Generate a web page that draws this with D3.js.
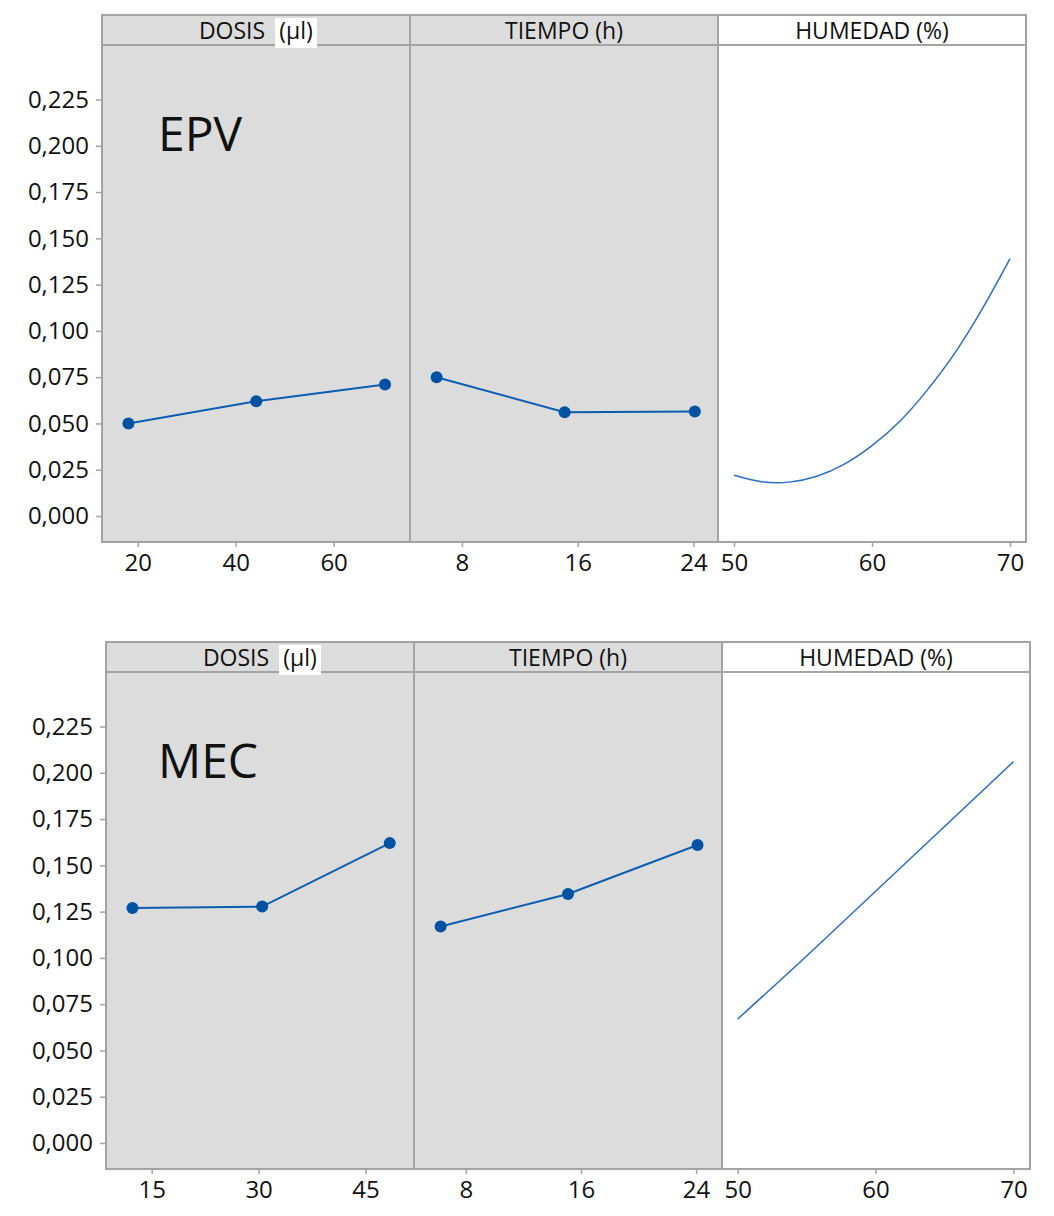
<!DOCTYPE html>
<html>
<head>
<meta charset="utf-8">
<script src="https://cdn.jsdelivr.net/npm/d3@7"></script>
<style>
  html, body { margin: 0; padding: 0; background: #fff; }
  svg { display: block; }
  text { font-family: "Open Sans", "DejaVu Sans", sans-serif; }
</style>
</head>
<body>
<svg id="chart" width="1054" height="1216"></svg>
<script>
// Main-effect values for each response (mean of the response at each factor level)
const tiempoLevels = [6.25, 15.1, 24.1];

const epvDosisLevels = [18.1, 44.2, 70.5];
const epvDosisMean = [0.050, 0.062, 0.071];
const epvTiempoMean = [0.075, 0.056, 0.0565];
const epvHumedadX = [50, 52, 54, 56, 58, 60, 62, 64, 66, 68, 70];
const epvHumedadFit = [0.022, 0.0185, 0.0183, 0.0215, 0.028, 0.038, 0.051, 0.068, 0.088, 0.112, 0.139];

const mecDosisLevels = [12.3, 30.5, 48.4];
const mecDosisMean = [0.127, 0.1277, 0.162];
const mecTiempoMean = [0.117, 0.1345, 0.161];
const mecHumedadX = [50, 55, 60, 65, 70];
const mecHumedadFit = [0.067, 0.101, 0.136, 0.171, 0.206];

// Tick labels
const yTicks = [0, 0.025, 0.05, 0.075, 0.1, 0.125, 0.15, 0.175, 0.2, 0.225];
const epvDosisTicks = [20, 40, 60];
const mecDosisTicks = [15, 30, 45];
const tiempoTicks = [8, 16, 24];
const humedadTicks = [50, 60, 70];

const panelTitles = ["DOSIS", "TIEMPO (h)", "HUMEDAD (%)"];
const doseUnit = "(µl)";
const rowLabels = ["EPV", "MEC"];

const svg = d3.select("#chart");
const FRAME = "#a3a3a3";
const GRAY = "#dcdcdc";
const LINE = "#0b5cb3";
const DOT = "#0052a3";
const FIT = "#2a6fc2";
const INK = "#111111";
const fmt = v => d3.format(".3f")(v).replace(".", ",");

const rows = [
  {
    label: rowLabels[0], left: 102, top: 15, labelX: 158,
    domains: [[12.7, 75.6], [4.41, 25.7], [48.84, 71.16]],
    ticks: [epvDosisTicks, tiempoTicks, humedadTicks],
    dosis: epvDosisLevels.map((x, i) => [x, epvDosisMean[i]]),
    tiempo: tiempoLevels.map((x, i) => [x, epvTiempoMean[i]]),
    humedad: epvHumedadX.map((x, i) => [x, epvHumedadFit[i]])
  },
  {
    label: rowLabels[1], left: 106, top: 642, labelX: 158,
    domains: [[8.59, 51.8], [4.4, 25.8], [48.86, 71.2]],
    ticks: [mecDosisTicks, tiempoTicks, humedadTicks],
    dosis: mecDosisLevels.map((x, i) => [x, mecDosisMean[i]]),
    tiempo: tiempoLevels.map((x, i) => [x, mecTiempoMean[i]]),
    humedad: mecHumedadX.map((x, i) => [x, mecHumedadFit[i]])
  }
];

const PW = 308;      // width of one factor panel
const HEAD = 30;     // height of the header strip
const H = 527;       // full height from header top to plot bottom

rows.forEach(row => {
  const g = svg.append("g");
  const L = row.left, T = row.top, B = T + H;
  const y = d3.scaleLinear().domain([0, 0.225]).range([T + 501, T + 84.5]);

  // panel backgrounds
  [GRAY, GRAY, "#ffffff"].forEach((c, i) => {
    g.append("rect").attr("x", L + i * PW).attr("y", T)
      .attr("width", PW).attr("height", H).attr("fill", c);
  });

  // x scales per factor
  const xs = row.domains.map((d, i) =>
    d3.scaleLinear().domain(d).range([L + i * PW, L + (i + 1) * PW]));

  // data
  const line = (sx) => d3.line().x(d => sx(d[0])).y(d => y(d[1]));
  [[row.dosis, xs[0]], [row.tiempo, xs[1]]].forEach(([data, sx]) => {
    g.append("path").datum(data).attr("d", line(sx))
      .attr("fill", "none").attr("stroke", LINE).attr("stroke-width", 2);
    g.selectAll(null).data(data).enter().append("circle")
      .attr("cx", d => sx(d[0])).attr("cy", d => y(d[1])).attr("r", 6)
      .attr("fill", DOT);
  });
  g.append("path").datum(row.humedad)
    .attr("d", line(xs[2]).curve(d3.curveNatural))
    .attr("fill", "none").attr("stroke", FIT).attr("stroke-width", 1.5);

  // frame
  const fr = g.append("g").attr("stroke", FRAME).attr("stroke-width", 2).attr("fill", "none");
  fr.append("rect").attr("x", L).attr("y", T).attr("width", 3 * PW).attr("height", H);
  fr.append("line").attr("x1", L).attr("x2", L + 3 * PW).attr("y1", T + HEAD).attr("y2", T + HEAD);
  [1, 2].forEach(i => fr.append("line")
    .attr("x1", L + i * PW).attr("x2", L + i * PW).attr("y1", T).attr("y2", B));

  // header titles
  g.append("text").attr("x", L + 130).attr("y", T + 24).attr("text-anchor", "middle")
    .attr("font-size", 23).attr("fill", INK).text(panelTitles[0]);
  g.append("rect").attr("x", L + 173).attr("y", T + 3).attr("width", 42).attr("height", 30)
    .attr("fill", "#ffffff");
  g.append("text").attr("x", L + 194).attr("y", T + 24).attr("text-anchor", "middle")
    .attr("font-size", 23).attr("fill", INK).text(doseUnit);
  g.append("text").attr("x", L + PW * 1.5).attr("y", T + 24).attr("text-anchor", "middle")
    .attr("font-size", 23).attr("fill", INK).text(panelTitles[1]);
  g.append("text").attr("x", L + PW * 2.5).attr("y", T + 24).attr("text-anchor", "middle")
    .attr("font-size", 23).attr("fill", INK).text(panelTitles[2]);

  // response label
  g.append("text").attr("x", row.labelX).attr("y", T + 136)
    .attr("font-size", 48).attr("fill", "#111").text(row.label);

  // y axis
  const ya = g.append("g").attr("transform", `translate(${L - 1},0)`)
    .call(d3.axisLeft(y).tickValues(yTicks).tickFormat(fmt).tickSize(5).tickPadding(7));
  ya.select(".domain").remove();
  ya.selectAll(".tick line").attr("stroke", FRAME).attr("stroke-width", 1.5);
  ya.selectAll(".tick text").attr("font-size", 24).attr("fill", INK)
    .attr("font-family", "'Open Sans', sans-serif");

  // x axes
  xs.forEach((sx, i) => {
    const xa = g.append("g").attr("transform", `translate(0,${B + 1})`)
      .call(d3.axisBottom(sx).tickValues(row.ticks[i]).tickSize(4).tickPadding(7));
    xa.select(".domain").remove();
    xa.selectAll(".tick line").attr("stroke", FRAME).attr("stroke-width", 1.5);
    xa.selectAll(".tick text").attr("font-size", 24).attr("fill", INK)
      .attr("font-family", "'Open Sans', sans-serif");
  });
});
</script>
</body>
</html>
